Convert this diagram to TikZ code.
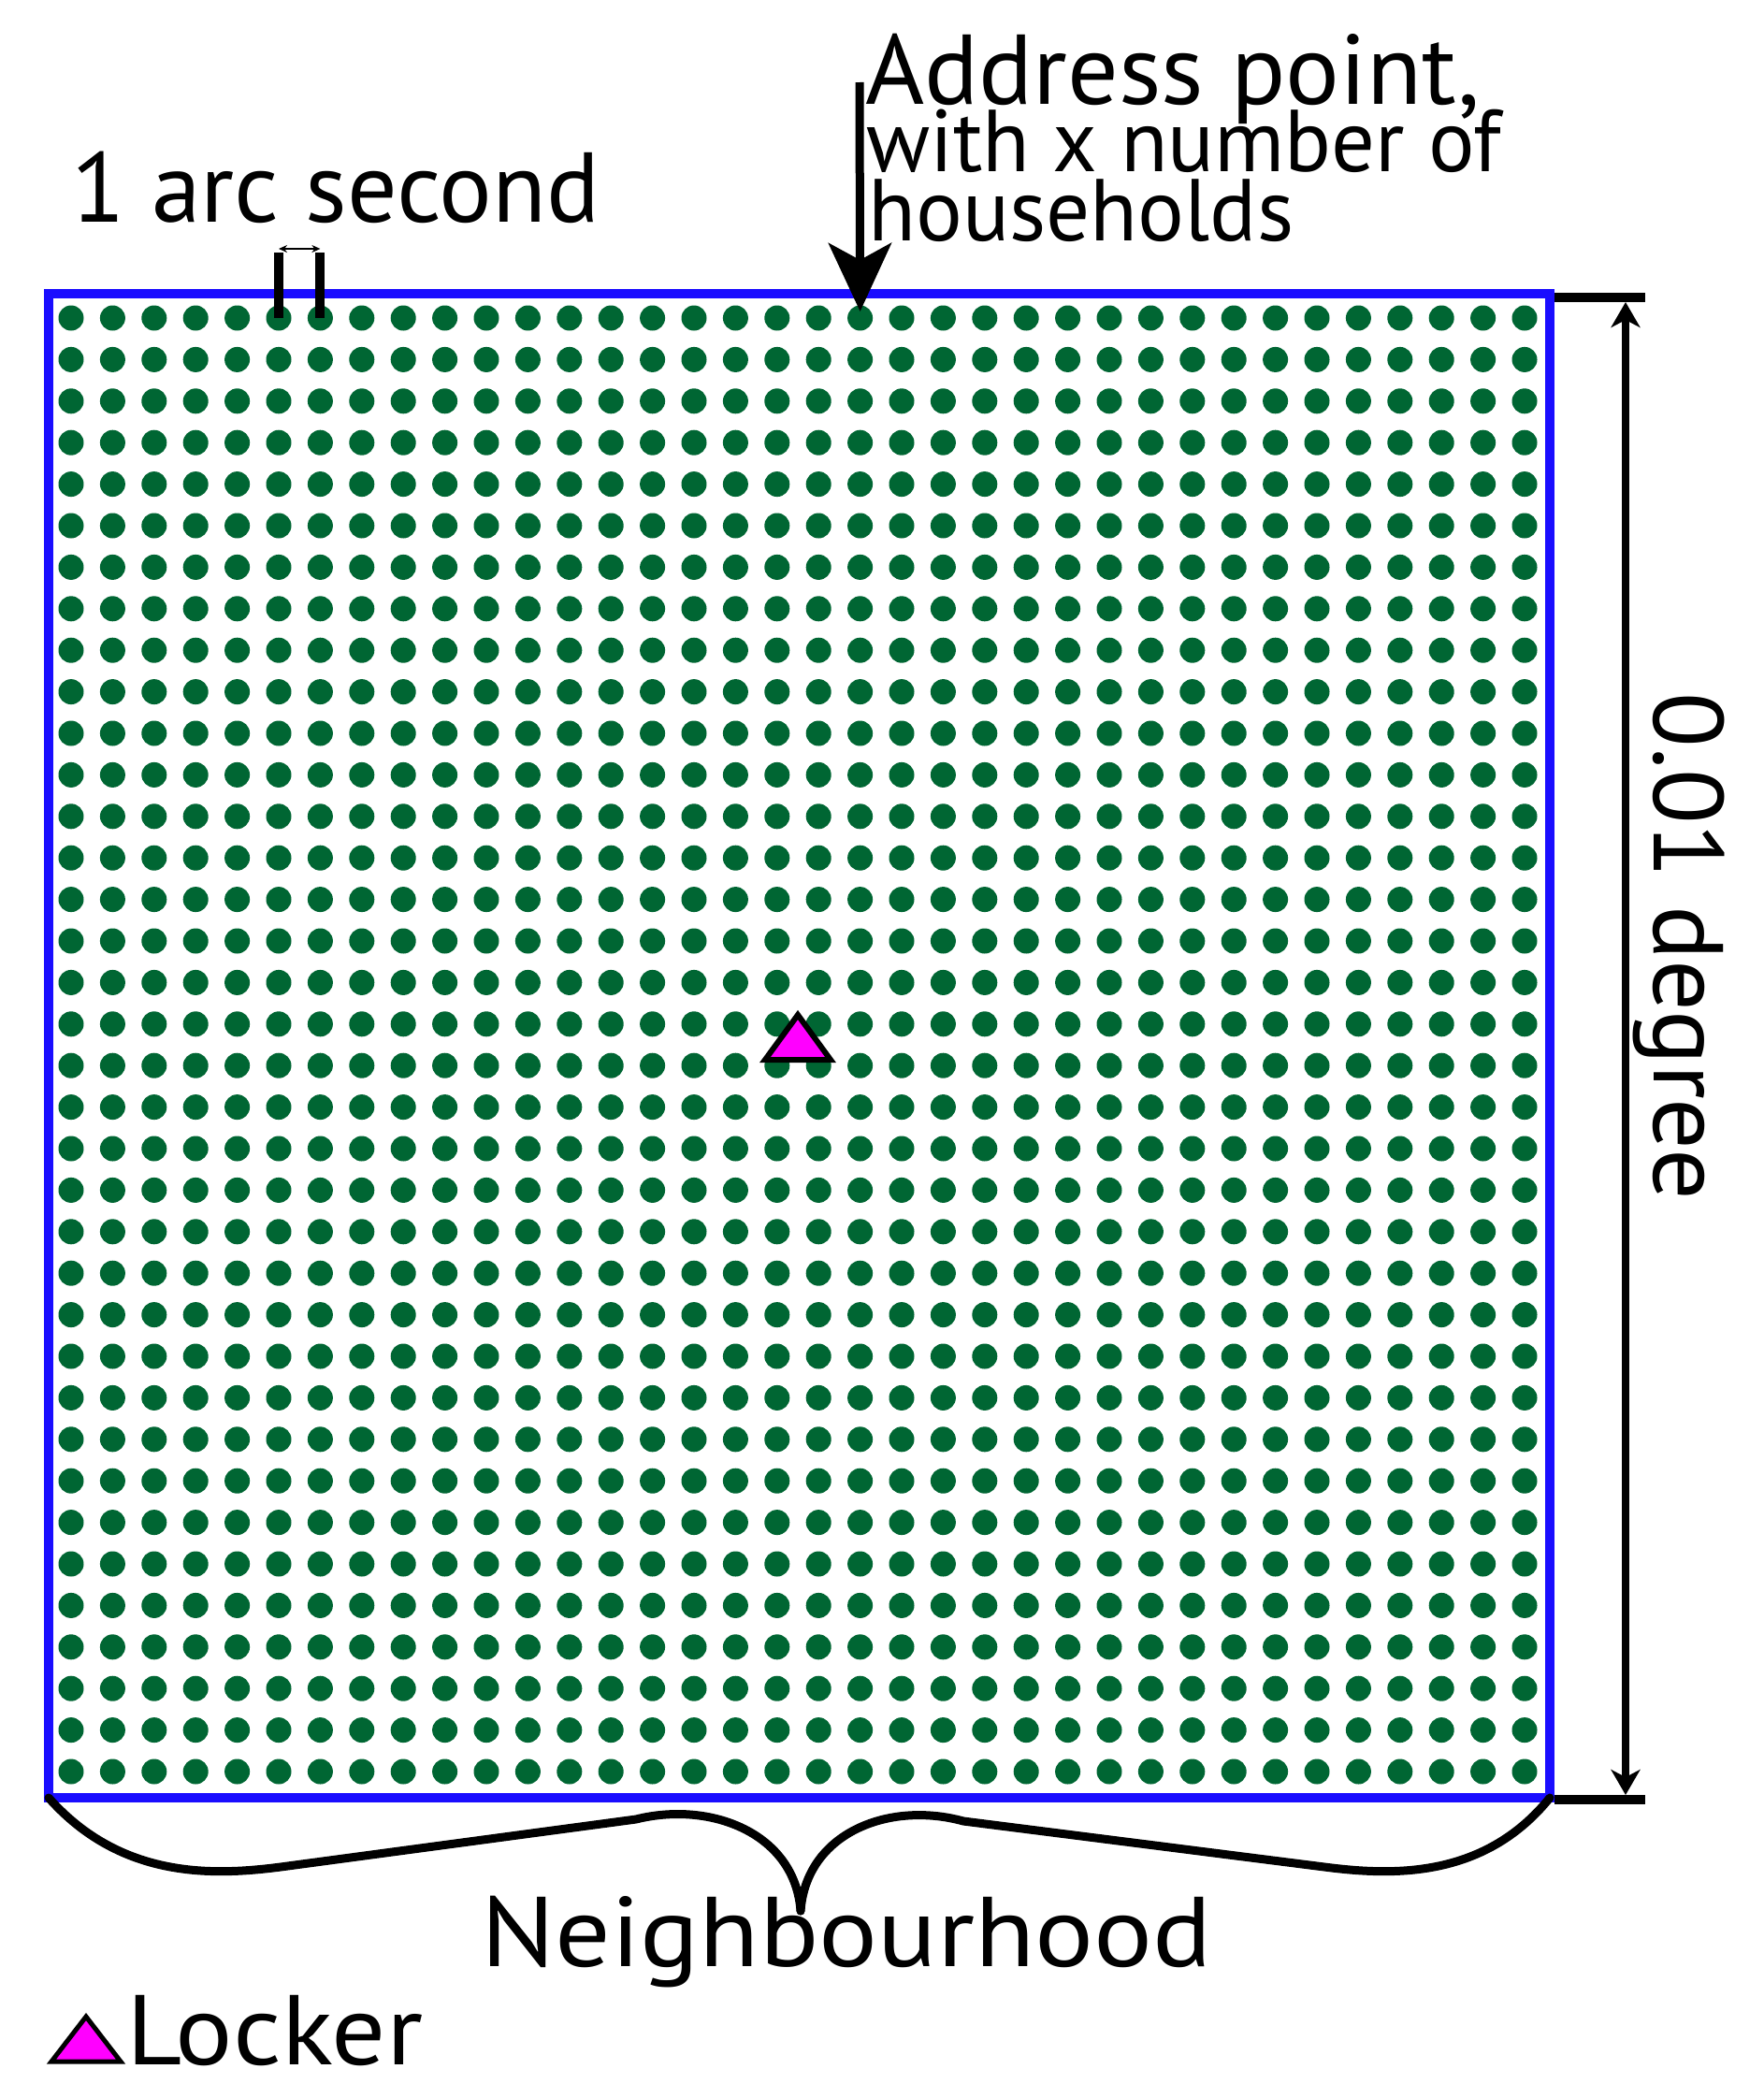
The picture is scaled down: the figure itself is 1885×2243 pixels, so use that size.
\documentclass[tikz,border=0pt]{standalone}
\usepackage{fontspec}
\setmainfont{PT Sans}
\usetikzlibrary{arrows.meta}
\definecolor{boxblue}{RGB}{26,13,255}
\definecolor{dotgreen}{RGB}{0,102,51}
\definecolor{lockmag}{RGB}{255,0,255}
\begin{document}
\begin{tikzpicture}[x=1pt,y=-1pt,
  dot/.style={circle,fill=dotgreen,inner sep=0pt,outer sep=0pt,minimum size=27pt},
  big/.style={inner sep=0pt,anchor=base west,font=\fontsize{106}{106}\selectfont},
  mid/.style={inner sep=0pt,anchor=base west,font=\fontsize{94}{94}\selectfont},
  blk/.style={line width=10pt},
  brc/.style={line width=9pt,line cap=round,line join=round},
  tri/.style={line width=6pt,fill=lockmag,draw=black,line join=miter},
]
\fill[white] (0,0) rectangle (1885,2243);
\useasboundingbox (0,0) rectangle (1885,2243);

% neighbourhood box
\node[draw=boxblue,line width=10pt,inner sep=0pt,outer sep=0pt,
      minimum width=1605pt,minimum height=1608pt] (box) at (854.5,1118) {};

% address points
\foreach \i in {0,...,35}{
  \foreach \j in {0,...,35}{
    \node[dot] (d-\i-\j) at ({76+44.4*\i},{340+44.4*\j}) {};
  }
}

% locker in the middle
\draw[tri] (853,1085) -- (888,1133) -- (818,1133) -- cycle;

% 1 arc second marker
\node[big] (arc) at (76,237) {1 arc second};
\coordinate (barA) at ([yshift=70pt]d-5-0.center);
\coordinate (barB) at ([yshift=70pt]d-6-0.center);
\draw[blk] (barA) -- (d-5-0.center);
\draw[blk] (barB) -- (d-6-0.center);
\coordinate (arcL) at ([yshift=4pt]barA);
\coordinate (arcR) at ([yshift=4pt]barB);
\draw[line width=2pt,{Stealth[length=9pt,width=8pt]}-{Stealth[length=9pt,width=8pt]}] (arcL) -- (arcR);

% address point label and arrow
\node[big] (addr1) at (925,111) {\resizebox{658pt}{\height}{Address point,}};
\node[mid] (addr2) at (926,183) {\resizebox{679pt}{\height}{with x number of}};
\node[mid] (addr3) at (928,257) {\resizebox{455pt}{\height}{households}};
\coordinate (addrTop) at (919,88);
\draw[line width=9pt,-{Stealth[length=73pt,width=67pt,inset=18pt]}] (addrTop) -- ([yshift=7pt]d-19-0.center);

% 0.01 degree dimension
\coordinate (tT0) at (1662,318);
\coordinate (tT1) at (1759,318);
\coordinate (tB0) at (1662,1924);
\coordinate (tB1) at (1759,1924);
\draw[blk] (tT0) -- (tT1);
\draw[blk] (tB0) -- (tB1);
\coordinate (dimT) at (1738,323);
\coordinate (dimB) at (1738,1919);
\draw[line width=8pt,{Stealth[length=27pt,width=31pt,inset=8pt]}-{Stealth[length=27pt,width=31pt,inset=8pt]}] (dimT) -- (dimB);
\node[big,rotate=-90] (deg) at (1768,740) {\resizebox{543pt}{\height}{0.01 degree}};

% brace
\coordinate (tip) at (856,2043);
\draw[brc]
  (box.south west) .. controls (130,2010) and (230,2005) .. (300,1996) -- (680,1945)
  .. controls (760,1925) and (850,1960) .. (tip);
\draw[brc]
  (tip) .. controls (862,1960) and (950,1925) .. (1030,1947) -- (1416,1996)
  .. controls (1486,2005) and (1586,2010) .. (box.south east);
\node[big] (nb) at (514,2102) {\resizebox{782pt}{\height}{Neighbourhood}};

% legend
\draw[tri,line width=5pt] (92,2156) -- (129,2204) -- (55,2204) -- cycle;
\node[big] (lk) at (135,2207) {\resizebox{317pt}{\height}{Locker}};
\end{tikzpicture}
\end{document}
